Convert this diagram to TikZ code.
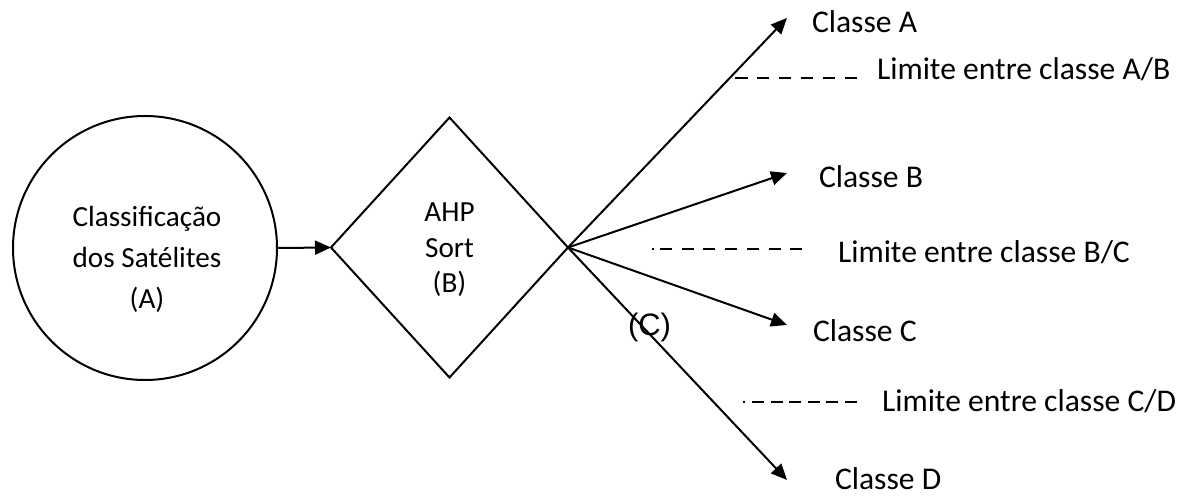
\documentclass[tikz,border=0pt]{standalone}
\usepackage{fontspec}
\setmainfont{Carlito}
\newfontfamily\arialfont{Liberation Sans}
\usetikzlibrary{shapes.geometric,arrows.meta}
\begin{document}
\begin{tikzpicture}[x=0.5pt,y=-0.5pt,
  line width=1pt,
  inner text/.style={inner sep=0pt,outer sep=0pt,anchor=base,font=\fontsize{14.6pt}{17pt}\selectfont},
  label text/.style={inner sep=0pt,outer sep=0pt,anchor=base west,font=\fontsize{15.8pt}{18pt}\selectfont},
  flow/.style={-{Triangle[length=8pt,width=7pt]}},
  limit/.style={line width=1pt}
]
\useasboundingbox (0,0) rectangle (1191,497);
% shapes
\node[draw,circle,minimum size=132pt,inner sep=0pt,outer sep=0pt] (A) at (145,248) {};
\node[draw,diamond,minimum width=118.5pt,minimum height=130pt,inner sep=0pt,outer sep=0pt] (B) at (449.5,247.5) {};
% texts inside
\node[inner text] (a1) at (147,227) {Classificação};
\node[inner text] (a2) at (147,268) {dos Satélites};
\node[inner text] (a3) at (147,309) {(A)};
\node[inner text] (b1) at (449.5,222) {AHP};
\node[inner text] (b2) at (449.5,258) {Sort};
\node[inner text] (b3) at (449.5,293) {(B)};
% arrow tips
\coordinate (tA) at (787,18);
\coordinate (tB) at (787,173);
\coordinate (tC) at (787,325);
\coordinate (tD) at (787,480);
% connectors
\draw[flow] (A.east) -- (B.west);
\draw[flow] (B.east) -- (tA);
\draw[flow] (B.east) -- (tB);
\draw[flow] (B.east) -- (tC);
\draw[flow] (B.east) -- (tD);
% limits
\coordinate (ab1) at (735,78);
\coordinate (ab2) at (857,78);
\coordinate (bc1) at (652,249);
\coordinate (bc2) at (802,249);
\coordinate (cd1) at (743,402);
\coordinate (cd2) at (857,402);
\draw[limit,dash pattern=on 6.25pt off 4.7pt] (ab1) -- (ab2);
\draw[limit,dash pattern=on 0.75pt off 3.25pt on 6pt off 4.85pt on 6pt off 4.85pt on 6pt off 4.85pt on 6pt off 4.85pt on 6pt off 4.85pt on 6pt off 4.85pt on 6pt off 10pt] (bc1) -- (bc2);
\draw[limit,dash pattern=on 0.9pt off 3.6pt on 6pt off 3.3pt on 6pt off 3.3pt on 6pt off 3.3pt on 6pt off 3.3pt on 6pt off 3.3pt on 6pt off 10pt] (cd1) -- (cd2);
% labels
\node[label text] (lA) at (812,33) {Classe A};
\node[label text] (lAB) at (877,80) {Limite entre classe A/B};
\node[label text] (lB) at (819,188) {Classe B};
\node[label text] (lBC) at (838,263) {Limite entre classe B/C};
\node[label text] (lC) at (813,342) {Classe C};
\node[label text] (lCD) at (882,412) {Limite entre classe C/D};
\node[label text] (lD) at (835,490) {Classe D};
\node[inner sep=0pt,outer sep=0pt,anchor=base west,font=\arialfont\fontsize{15.5pt}{18pt}\selectfont] (cC) at (628,336) {(C)};
\end{tikzpicture}
\end{document}
